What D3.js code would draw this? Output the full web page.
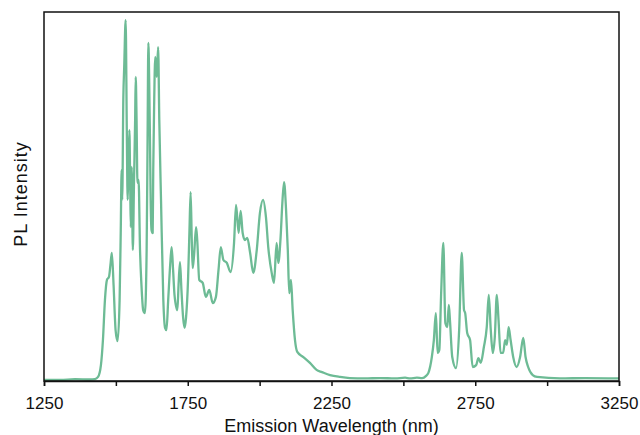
<!DOCTYPE html>
<html>
<head>
<meta charset="utf-8">
<script src="https://cdn.jsdelivr.net/npm/d3@7"></script>
<style>
  html, body { margin: 0; padding: 0; background: #fff; }
  svg { display: block; }
  text { font-family: "Liberation Sans", Arial, sans-serif; fill: #111; }
</style>
</head>
<body>
<svg id="chart" width="640" height="435"></svg>
<script>
// Emission wavelength (nm)
const wavelength = [
  1250, 1306, 1358, 1410, 1427, 1438, 1448, 1455, 1462, 1469,
  1476, 1481, 1486, 1492, 1499, 1506, 1513, 1517, 1520, 1522,
  1526, 1529, 1534, 1538, 1541, 1544, 1547, 1550, 1552, 1555,
  1559, 1563, 1567, 1569, 1572, 1575, 1579, 1584, 1589, 1595,
  1601, 1607, 1610, 1613, 1616, 1619, 1621, 1624, 1628, 1630,
  1633, 1637, 1642, 1647, 1651, 1657, 1665, 1671, 1676, 1682,
  1690, 1694, 1699, 1704, 1714, 1718, 1723, 1728, 1734, 1739,
  1744, 1751, 1756, 1760, 1764, 1767, 1772, 1779, 1783, 1790,
  1802, 1813, 1825, 1837, 1848, 1857, 1865, 1874, 1886, 1899,
  1911, 1918, 1927, 1934, 1941, 1949, 1957, 1967, 1978, 1990,
  2001, 2012, 2022, 2030, 2042, 2050, 2059, 2065, 2073, 2079,
  2085, 2092, 2098, 2103, 2109, 2115, 2123, 2131, 2152, 2175,
  2198, 2217, 2245, 2280, 2314, 2366, 2419, 2471, 2506, 2523,
  2547, 2565, 2579, 2587, 2599, 2606, 2613, 2619, 2625, 2631,
  2639, 2646, 2653, 2658, 2662, 2670, 2683, 2694, 2703, 2711,
  2715, 2722, 2732, 2741, 2753, 2761, 2769, 2780, 2790, 2797,
  2804, 2811, 2818, 2825, 2831, 2838, 2847, 2854, 2860, 2866,
  2873, 2882, 2894, 2906, 2917, 2925, 2934, 2950, 2965, 3045,
  3132, 3250
];
// PL intensity (arbitrary units, 0-100)
const intensity = [
  0.3, 0.3, 0.5, 0.4, 0.5, 1.1, 4.3, 11.1, 22.0, 27.4,
  28.2, 31.4, 34.7, 26.0, 13.8, 10.8, 22.0, 40.9, 57.2, 49.1,
  77.0, 85.1, 97.8, 68.0, 49.1, 58.5, 68.0, 51.8, 41.7, 58.0,
  35.5, 53.7, 70.7, 82.4, 70.7, 53.7, 54.5, 35.5, 26.0, 19.2,
  18.4, 35.5, 62.6, 91.6, 80.8, 62.6, 49.1, 40.9, 40.1, 57.2,
  74.3, 87.8, 82.4, 90.5, 70.7, 49.1, 22.0, 14.4, 13.8, 22.0,
  32.8, 36.3, 30.1, 23.3, 19.2, 26.0, 32.2, 24.7, 17.1, 14.4,
  17.1, 27.4, 40.9, 51.2, 38.2, 30.6, 34.1, 41.7, 38.2, 27.4,
  26.6, 22.8, 24.7, 21.1, 22.8, 30.1, 36.3, 32.8, 32.0, 29.5,
  37.4, 47.7, 40.1, 46.1, 40.1, 38.2, 38.8, 34.7, 29.3, 35.5,
  45.5, 49.1, 44.4, 36.3, 29.3, 26.6, 37.4, 32.0, 39.0, 48.2,
  53.9, 46.3, 35.5, 23.8, 27.4, 19.2, 11.1, 7.9, 6.5, 4.9,
  3.0, 2.4, 1.6, 1.1, 0.8, 0.7, 0.8, 0.7, 0.9, 0.7,
  0.9, 0.8, 1.4, 2.2, 6.5, 11.1, 18.4, 7.6, 8.4, 22.8,
  37.4, 15.7, 14.6, 20.6, 16.5, 6.5, 3.5, 13.8, 34.7, 19.2,
  18.4, 13.0, 11.1, 3.8, 4.3, 6.2, 4.9, 9.2, 14.6, 23.3,
  13.8, 7.6, 11.9, 23.3, 16.5, 7.6, 7.6, 11.1, 9.8, 14.6,
  11.1, 6.5, 3.8, 6.5, 11.7, 6.5, 3.8, 1.6, 1.1, 0.7,
  0.8, 0.7
];
const majorTicks = [1250, 1750, 2250, 2750, 3250];
const minorTicks = [1500, 2000, 2500, 3000];
const xTitle = "Emission Wavelength (nm)";
const yTitle = "PL Intensity";

const svg = d3.select("#chart");
const mLeft = 44, mRight = 619, mTop = 12, mBottom = 381;

const x = d3.scaleLinear().domain([1250, 3250]).range([mLeft, mRight]);
const y = d3.scaleLinear().domain([0, 100]).range([mBottom, mTop]);

const data = wavelength.map((w, i) => ({ w, v: intensity[i] }));

// line
const line = d3.line().x(d => x(d.w)).y(d => y(d.v)).curve(d3.curveMonotoneX);
svg.append("path")
  .datum(data)
  .attr("d", line)
  .attr("fill", "none")
  .attr("stroke", "#6dbb95")
  .attr("stroke-width", 2.3)
  .attr("stroke-linejoin", "round");

// frame
svg.append("rect")
  .attr("x", mLeft).attr("y", mTop)
  .attr("width", mRight - mLeft).attr("height", mBottom - mTop)
  .attr("fill", "none").attr("stroke", "#111").attr("stroke-width", 1.5);

// x axis
const xAxis = d3.axisBottom(x)
  .tickValues(majorTicks.concat(minorTicks).sort((a, b) => a - b))
  .tickSize(5)
  .tickFormat(d => majorTicks.includes(d) ? d : "");
const gx = svg.append("g").attr("transform", `translate(0,${mBottom})`).call(xAxis);
gx.select(".domain").attr("stroke", "#111").attr("stroke-width", 1.5);
gx.selectAll(".tick line").attr("stroke", "#111").attr("stroke-width", 1.5);
gx.selectAll(".tick text")
  .attr("font-size", 17)
  .attr("font-family", "Liberation Sans, Arial, sans-serif")
  .attr("fill", "#111")
  .attr("dy", null).attr("y", 28);

// titles
svg.append("text")
  .attr("x", (mLeft + mRight) / 2).attr("y", 432)
  .attr("text-anchor", "middle")
  .attr("font-size", 18)
  .text(xTitle);

svg.append("text")
  .attr("transform", `translate(27,194) rotate(-90)`)
  .attr("text-anchor", "middle")
  .attr("font-size", 18)
  .attr("letter-spacing", 1)
  .text(yTitle);
</script>
</body>
</html>
